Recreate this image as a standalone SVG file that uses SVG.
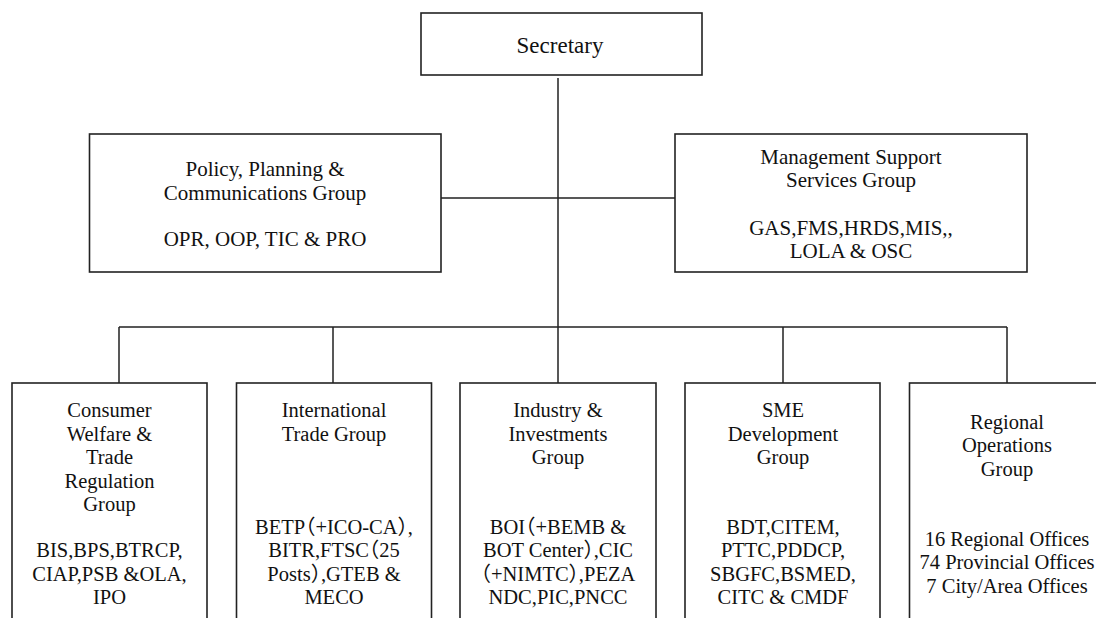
<svg xmlns="http://www.w3.org/2000/svg" width="1096" height="618" viewBox="0 0 1096 618">
<style>
.box{fill:#fff;stroke:#222;stroke-width:1.6}
.ln{stroke:#222;stroke-width:1.5;fill:none}
text{font-family:"Liberation Serif","Noto Sans CJK SC",serif;font-size:20.5px;fill:#111;text-anchor:middle}
.top{font-size:21px}
.sec{font-size:23px}
.hw{font-feature-settings:"halt" 1}
</style>
<rect width="1096" height="618" fill="#fff"/>
<g id="connectors">
<path class="ln" d="M558,78 V327 M441,198 H675 M119,327 H1007 M119,327 V383 M333,327 V383 M558,327 V383 M783,327 V383 M1007,327 V383"/>
</g>
<g id="secretary">
<rect class="box" x="421" y="13" width="281" height="62"/>
<text class="sec" x="560" y="53">Secretary</text>
</g>
<g id="policy">
<rect class="box" x="89.5" y="134" width="351.5" height="138"/>
<text class="top" x="265" y="176">Policy, Planning &amp;</text>
<text class="top" x="265" y="200">Communications Group</text>
<text class="top" x="265" y="246">OPR, OOP, TIC &amp; PRO</text>
</g>
<g id="management">
<rect class="box" x="675" y="134" width="352" height="138"/>
<text class="top" x="851" y="164">Management Support</text>
<text class="top" x="851" y="187">Services Group</text>
<text class="top" x="851" y="235">GAS,FMS,HRDS,MIS,,</text>
<text class="top" x="851" y="258">LOLA &amp; OSC</text>
</g>
<g id="consumer">
<rect class="box" x="12" y="383" width="195" height="260"/>
<text x="109.5" y="417">Consumer</text>
<text x="109.5" y="441">Welfare &amp;</text>
<text x="109.5" y="464">Trade</text>
<text x="109.5" y="488">Regulation</text>
<text x="109.5" y="511">Group</text>
<text x="109.5" y="557">BIS,BPS,BTRCP,</text>
<text x="109.5" y="581">CIAP,PSB &amp;OLA,</text>
<text x="109.5" y="604">IPO</text>
</g>
<g id="international">
<rect class="box" x="236.5" y="383" width="195" height="260"/>
<text x="334" y="417">International</text>
<text x="334" y="441">Trade Group</text>
<text class="hw" x="334" y="534">BETP（+ICO-CA）,</text>
<text class="hw" x="334" y="557">BITR,FTSC（25</text>
<text class="hw" x="334" y="581">Posts）,GTEB &amp;</text>
<text x="334" y="604">MECO</text>
</g>
<g id="industry">
<rect class="box" x="460" y="383" width="196" height="260"/>
<text x="558" y="417">Industry &amp;</text>
<text x="558" y="441">Investments</text>
<text x="558" y="464">Group</text>
<text class="hw" x="558" y="534">BOI（+BEMB &amp;</text>
<text class="hw" x="558" y="557">BOT Center）,CIC</text>
<text class="hw" x="558" y="581">（+NIMTC）,PEZA</text>
<text x="558" y="604">NDC,PIC,PNCC</text>
</g>
<g id="sme">
<rect class="box" x="685" y="383" width="195" height="260"/>
<text x="783" y="417">SME</text>
<text x="783" y="441">Development</text>
<text x="783" y="464">Group</text>
<text x="783" y="534">BDT,CITEM,</text>
<text x="783" y="557">PTTC,PDDCP,</text>
<text x="783" y="581">SBGFC,BSMED,</text>
<text x="783" y="604">CITC &amp; CMDF</text>
</g>
<g id="regional">
<rect class="box" x="909.5" y="383" width="195" height="260"/>
<text x="1007" y="429">Regional</text>
<text x="1007" y="452">Operations</text>
<text x="1007" y="476">Group</text>
<text x="1007" y="546">16 Regional Offices</text>
<text x="1007" y="569">74 Provincial Offices</text>
<text x="1007" y="593">7 City/Area Offices</text>
</g>
</svg>
